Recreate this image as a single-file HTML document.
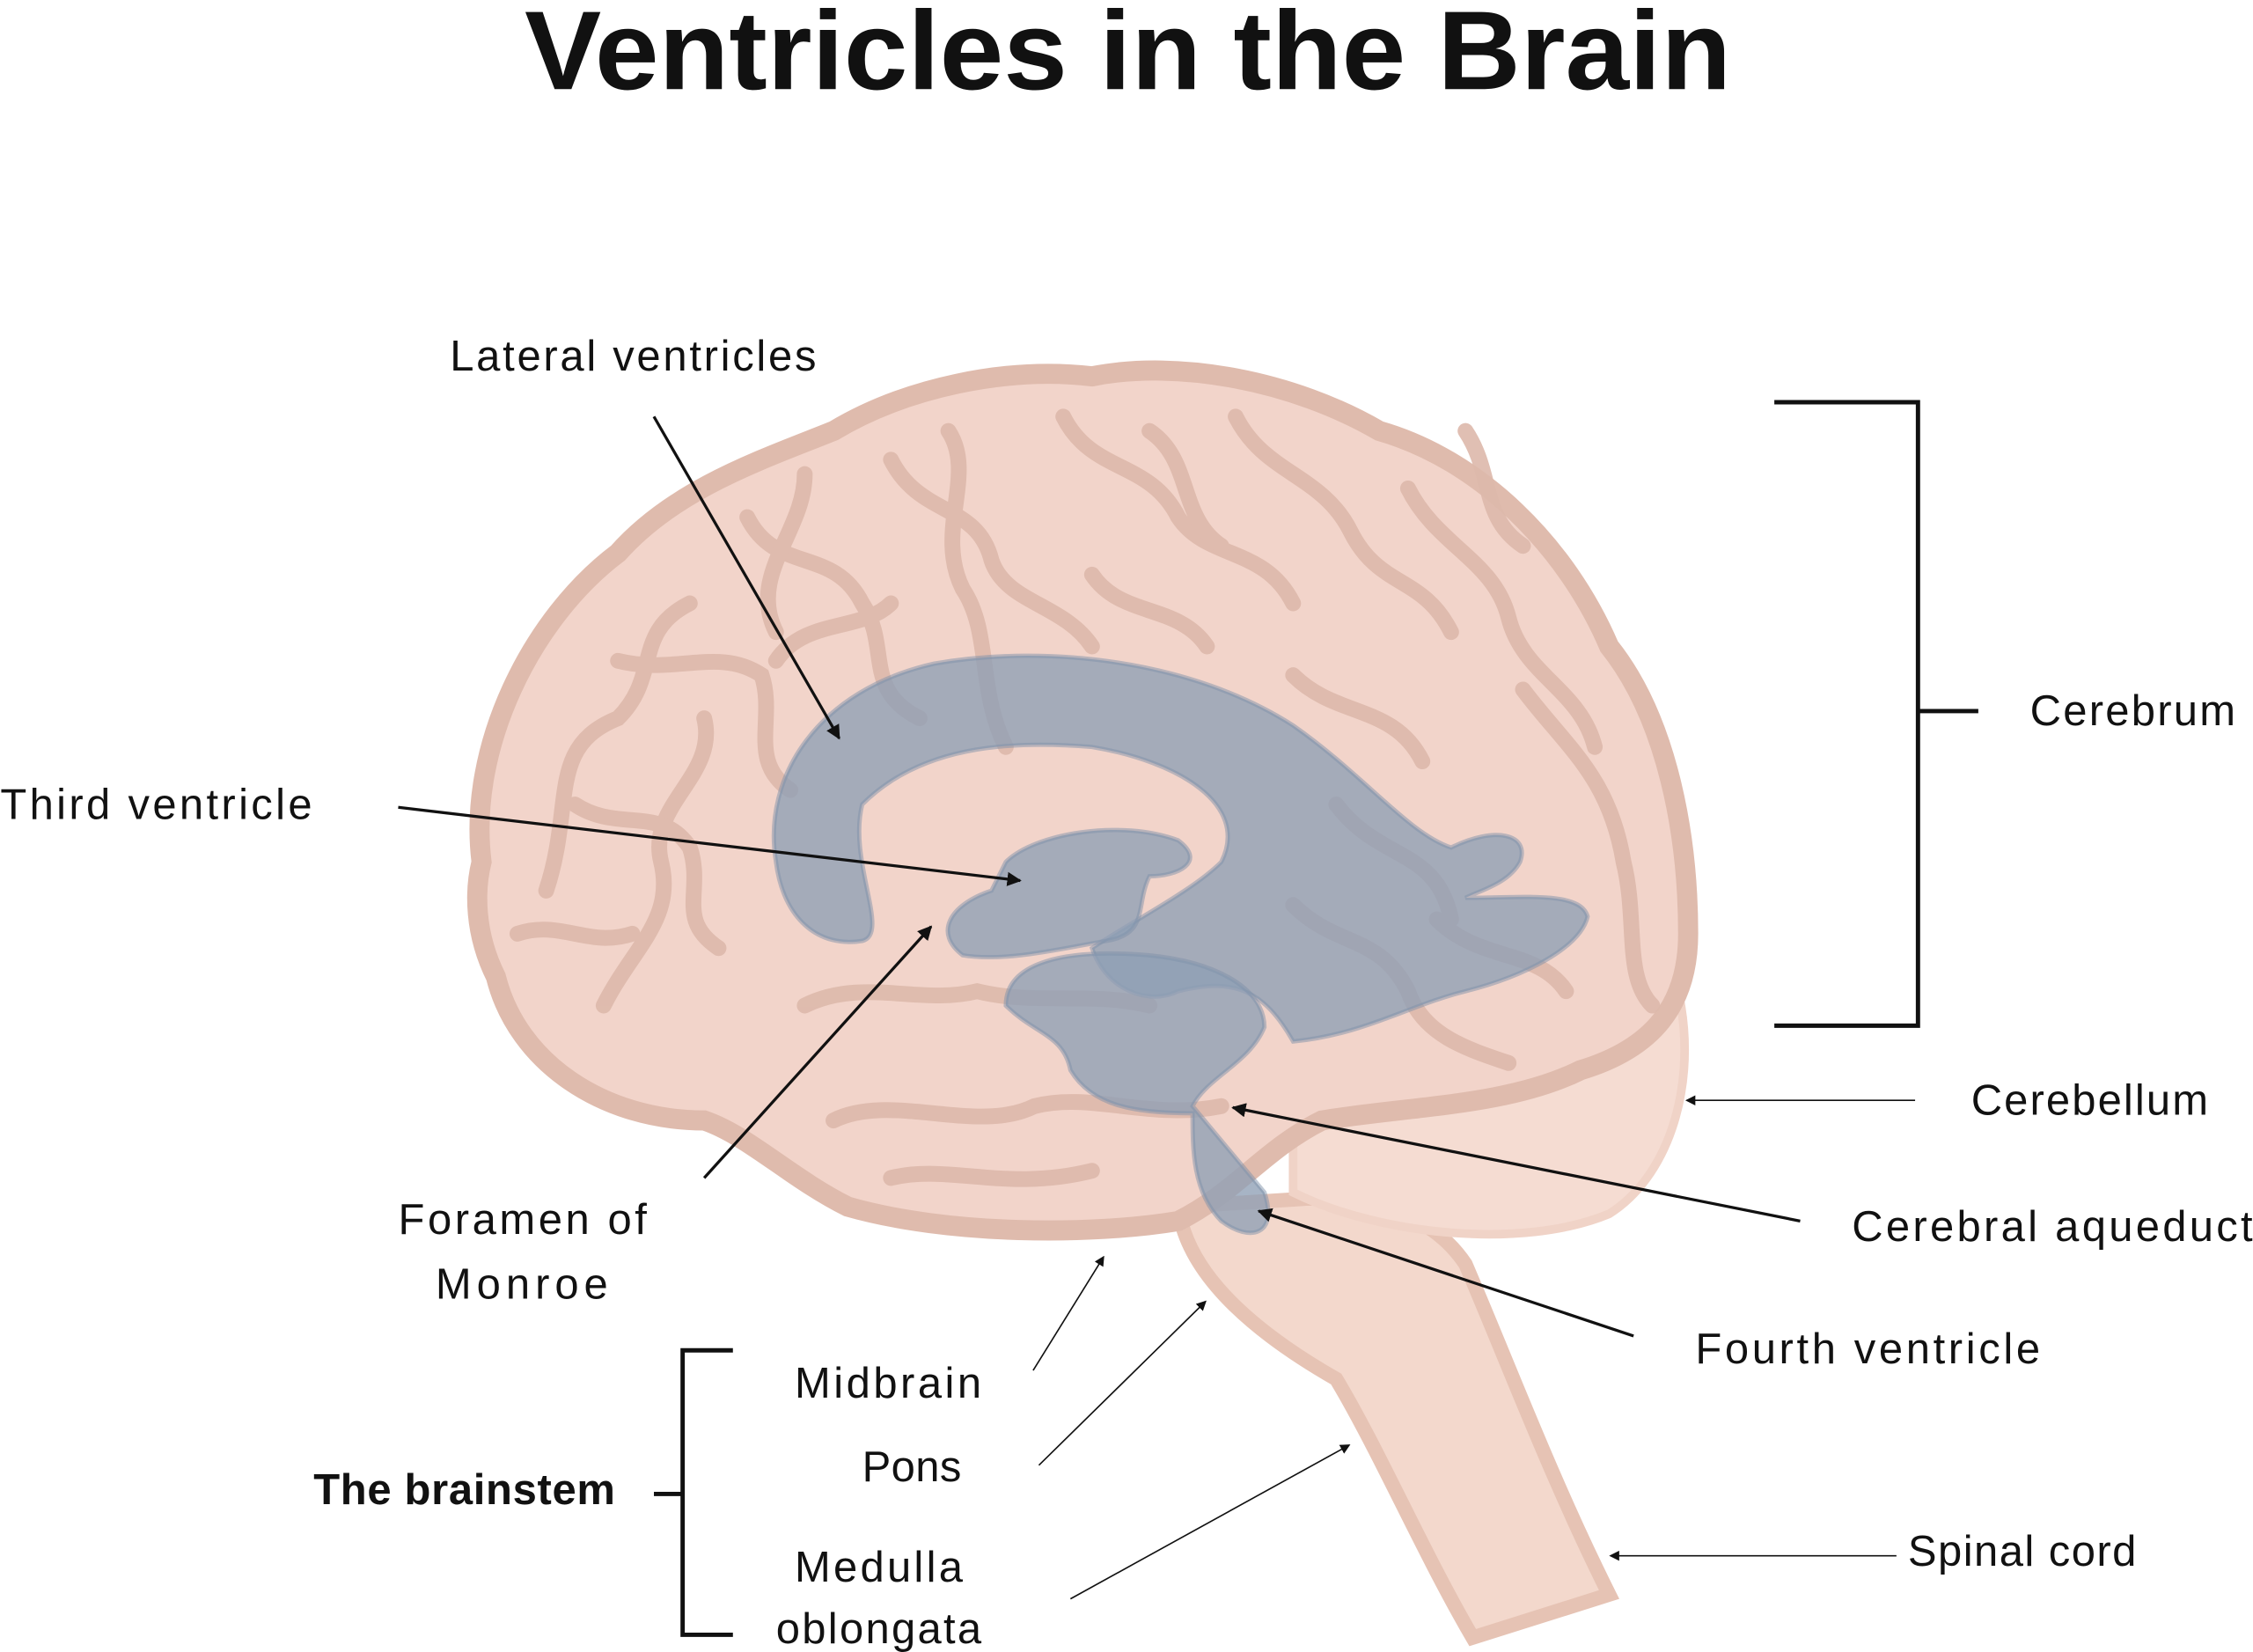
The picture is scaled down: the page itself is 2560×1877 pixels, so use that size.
<!DOCTYPE html>
<html><head><meta charset="utf-8"><style>
html,body{margin:0;padding:0;background:#fff;}
svg{display:block;}
text{font-family:"Liberation Sans",sans-serif;fill:#111;}
</style></head><body>
<svg width="2560" height="1877" viewBox="0 0 1568 1150" xmlns="http://www.w3.org/2000/svg">
<defs>
<marker id="a" markerWidth="10" markerHeight="10" refX="9" refY="5" orient="auto" markerUnits="userSpaceOnUse"><path d="M0,0 L10,5 L0,10 Z" fill="#111"/></marker>
<marker id="s" markerWidth="7" markerHeight="7" refX="6" refY="3.5" orient="auto" markerUnits="userSpaceOnUse"><path d="M0,0 L7,3.5 L0,7 Z" fill="#111"/></marker>
</defs>
<text x="365" y="62" font-size="78" font-weight="bold" textLength="840" lengthAdjust="spacingAndGlyphs">Ventricles in the Brain</text>

<!-- brainstem -->
<path d="M820,840 C825,880 860,920 930,960 C960,1010 990,1080 1025,1140 L1120,1110 C1080,1030 1050,950 1020,880 C1000,850 960,830 900,835 Z" fill="#f3d8cc" stroke="#e6c3b4" stroke-width="10"/>
<!-- cerebellum -->
<path d="M900,790 C980,720 1100,690 1170,700 C1180,760 1160,820 1120,845 C1060,870 960,860 900,830 Z" fill="#f5dcd2" stroke="#f0d3c7" stroke-width="6"/>
<!-- cerebrum -->
<path d="M335,600 C325,520 370,430 430,385 C470,340 530,320 580,300 C630,270 700,255 760,262 C820,250 900,265 960,300 C1030,320 1090,380 1120,450 C1160,500 1175,580 1175,650 C1175,700 1150,730 1100,745 C1050,770 980,770 920,780 C880,800 860,830 820,850 C760,860 660,860 590,840 C550,820 520,790 490,780 C420,780 360,740 345,680 C330,650 330,620 335,600 Z" fill="#f2d4ca" stroke="#dfbbad" stroke-width="14"/>
<!-- gyri -->
<g fill="none" stroke="#ddb9ab" stroke-width="11" stroke-linecap="round" opacity="0.9">
<path d="M380,620 C400,560 380,520 430,500 C460,470 440,440 480,420"/>
<path d="M420,700 C440,660 470,640 460,600 C450,560 500,540 490,500"/>
<path d="M520,360 C540,400 580,380 600,420 C620,450 600,480 640,500"/>
<path d="M620,320 C640,360 680,350 690,390 C700,420 740,420 760,450"/>
<path d="M740,290 C760,330 800,320 820,360 C840,390 880,380 900,420"/>
<path d="M860,290 C880,330 920,330 940,370 C960,410 990,400 1010,440"/>
<path d="M980,340 C1000,380 1040,390 1050,430 C1060,470 1100,480 1110,520"/>
<path d="M1060,480 C1090,520 1120,540 1130,600 C1140,640 1130,680 1150,700"/>
<path d="M560,700 C600,680 640,700 680,690 C720,700 760,690 800,700"/>
<path d="M580,780 C620,760 680,790 720,770 C760,760 800,780 850,770"/>
<path d="M620,820 C660,810 700,830 760,815"/>
<path d="M430,460 C470,470 500,450 530,470 C540,500 520,530 550,550"/>
<path d="M400,560 C430,580 460,560 480,590 C490,620 470,640 500,660"/>
<path d="M900,470 C930,500 970,490 990,530"/>
<path d="M760,400 C780,430 820,420 840,450"/>
<path d="M1000,640 C1030,670 1070,660 1090,690"/>
<path d="M660,300 C680,330 650,370 670,410 C690,440 680,480 700,520"/>
<path d="M560,330 C560,370 520,400 540,440"/>
<path d="M800,300 C830,320 820,360 850,380"/>
<path d="M930,560 C960,600 1000,590 1010,640"/>
<path d="M360,650 C390,640 410,660 440,650"/>
<path d="M1020,300 C1040,330 1030,360 1060,380"/>
<path d="M900,630 C930,660 960,650 980,690 C990,720 1020,730 1050,740"/>
<path d="M620,420 C600,440 560,430 540,460"/>
</g>
<!-- ventricles -->
<g fill="#8e9fb5" fill-opacity="0.78" stroke="#7f92aa" stroke-opacity="0.5" stroke-width="3">
<path d="M540,600 C530,540 570,480 650,462 C730,448 830,460 900,505 C950,540 980,580 1010,590 C1040,575 1065,580 1058,600 C1050,615 1030,620 1020,625 C1060,625 1100,620 1105,638 C1100,660 1060,680 1020,690 C980,700 950,720 900,725 C880,690 860,680 820,690 C800,700 770,690 760,660 C790,640 830,620 850,600 C870,560 820,530 760,520 C700,515 640,520 600,560 C590,600 620,650 600,655 C570,660 545,640 540,600 Z"/>
<path d="M700,600 C720,580 780,570 820,585 C840,600 820,610 800,610 C790,630 800,650 770,655 C740,660 700,670 670,665 C650,650 660,630 690,620 Z"/>
<path d="M700,700 C700,670 740,660 800,665 C850,670 880,690 880,715 C870,740 840,750 830,770 L880,830 C890,860 870,865 850,850 C830,830 830,800 830,775 C790,775 760,770 745,745 C740,720 720,720 700,700 Z"/>
</g>

<!-- labels -->
<g font-size="30" lengthAdjust="spacingAndGlyphs">
<text x="313" y="258" textLength="255">Lateral ventricles</text>
<text x="0" y="570" textLength="217">Third ventricle</text>
<text x="1413" y="505" textLength="143">Cerebrum</text>
<text x="1372" y="776" textLength="165">Cerebellum</text>
<text x="1289" y="864" textLength="279">Cerebral aqueduct</text>
<text x="1180" y="949" textLength="240">Fourth ventricle</text>
<text x="277" y="859" textLength="173">Foramen of</text>
<text x="303" y="904" textLength="120">Monroe</text>
<text x="553" y="973" textLength="130">Midbrain</text>
<text x="600" y="1031" textLength="69">Pons</text>
<text x="553" y="1101" textLength="117">Medulla</text>
<text x="540" y="1144" textLength="143">oblongata</text>
<text x="218" y="1047" font-weight="bold" textLength="210">The brainstem</text>
<text x="1328" y="1090" textLength="159">Spinal cord</text>
</g>

<g stroke="#111" fill="none">
<path d="M1235,280 H1335 V714 H1235 M1335,495 H1377" stroke-width="3"/>
<path d="M510,940 H475 V1138 H510 M455,1040 H475" stroke-width="3"/>
<line x1="455" y1="290" x2="584" y2="514" stroke-width="2" marker-end="url(#a)"/>
<line x1="277" y1="562" x2="710" y2="613" stroke-width="2" marker-end="url(#a)"/>
<line x1="490" y1="820" x2="648" y2="645" stroke-width="2" marker-end="url(#a)"/>
<line x1="1253" y1="850" x2="858" y2="771" stroke-width="2" marker-end="url(#a)"/>
<line x1="1137" y1="930" x2="876" y2="843" stroke-width="2" marker-end="url(#a)"/>
<line x1="1333" y1="766" x2="1174" y2="766" stroke-width="1" marker-end="url(#s)"/>
<line x1="1320" y1="1083" x2="1121" y2="1083" stroke-width="1" marker-end="url(#s)"/>
<line x1="719" y1="954" x2="768" y2="875" stroke-width="1" marker-end="url(#s)"/>
<line x1="723" y1="1020" x2="839" y2="906" stroke-width="1" marker-end="url(#s)"/>
<line x1="745" y1="1113" x2="939" y2="1006" stroke-width="1" marker-end="url(#s)"/>
</g>
</svg>
</body></html>
